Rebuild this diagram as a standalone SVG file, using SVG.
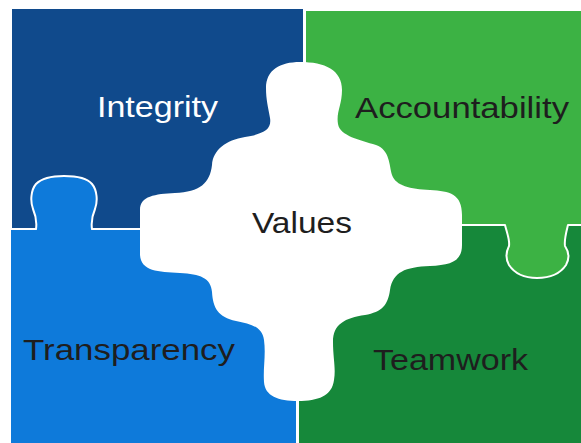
<svg xmlns="http://www.w3.org/2000/svg" width="581" height="443" viewBox="0 0 581 443">
<style>
.piece{stroke:#ffffff;stroke-width:2;stroke-linejoin:round}
.lbl{font-family:"Liberation Sans",Arial,sans-serif;font-size:30px}
.dark{fill:#1e1e1e}
.light{fill:#ffffff}
</style>
<rect x="0" y="0" width="581" height="443" fill="#ffffff"/>
<g id="integrity">
<rect class="piece" x="11" y="8" width="293" height="221" fill="#104a8c"/>
<text class="lbl light" x="97" y="117" textLength="121" lengthAdjust="spacingAndGlyphs">Integrity</text>
</g>
<g id="transparency">
<path class="piece" fill="#0e7ada" d="M10,229 H36 C37,222 36,216 33,209 C30,201 31,190 36,184 C42,178 52,176 64,176 C76,176 87,178 92,184 C97,190 98,201 95,209 C92,216 91,222 92,229 H297 V444 H10 Z"/>
<text class="lbl dark" x="23" y="360" textLength="212" lengthAdjust="spacingAndGlyphs">Transparency</text>
</g>
<g id="teamwork">
<rect class="piece" x="298" y="225" width="284" height="219" fill="#16883a"/>
<text class="lbl dark" x="373" y="370" textLength="155" lengthAdjust="spacingAndGlyphs">Teamwork</text>
</g>
<g id="accountability">
<path class="piece" fill="#3cb244" d="M305,10 H582 V225 H568 C566,233 564,240 565,246 C569,252 570,258 566,265 C560,274 549,278 537,278 C526,278 515,274 509,265 C505,258 506,252 509,246 C510,240 507,233 505,225 H305 Z"/>
<text class="lbl dark" x="355" y="118" textLength="214" lengthAdjust="spacingAndGlyphs">Accountability</text>
</g>
<g id="values">
<path fill="#ffffff" d="M300,62 C325,62 342,70 342,90 C342,105 336,112 338,124 C340,136 360,140 376,145 C390,150 389,165 392,175 C396,186 410,189 430,190 C450,191 462,194 462,215 L462,245 C462,262 450,265 430,266 C405,267 393,272 390,290 C388,305 382,312 365,315 C345,318 333,324 333,342 C333,358 336,368 334,380 C332,396 318,401 298,401 C278,401 265,396 264,382 C263,368 266,355 264,340 C262,326 250,324 236,321 C218,317 213,308 212,292 C211,278 200,274 180,273 C158,272 141,271 140,255 L140,210 C140,196 155,194 175,193 C200,192 210,183 212,165 C213,150 226,140 245,137 C263,134 272,130 270,118 C268,106 266,100 266,88 C266,70 280,62 300,62 Z"/>
<text class="lbl dark" x="252" y="233" textLength="100" lengthAdjust="spacingAndGlyphs">Values</text>
</g>
<g id="connectors"></g>
</svg>
